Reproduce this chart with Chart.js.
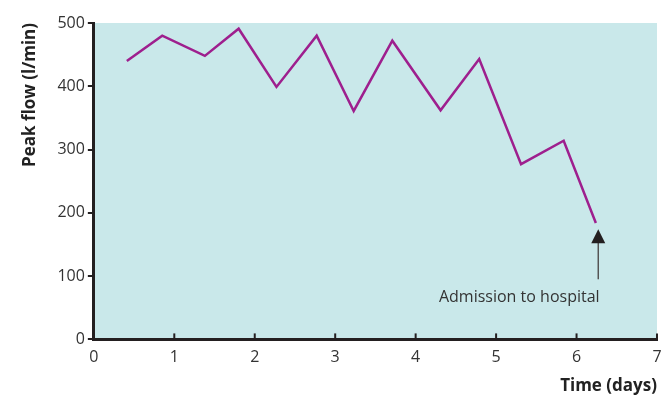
<!DOCTYPE html>
<html>
<head>
<meta charset="utf-8">
<script src="https://cdn.jsdelivr.net/npm/chart.js@4"></script>
<style>
  html, body { margin: 0; padding: 0; background: #fff; }
  #wrap { width: 664px; height: 396px; }
</style>
</head>
<body>
<div id="wrap"><canvas id="peakChart" width="664" height="396"></canvas></div>
<script>
// values
var days = [0.41, 0.85, 1.38, 1.80, 2.27, 2.77, 3.23, 3.71, 4.31, 4.79, 5.31, 5.84, 6.24];
var peakFlow = [440, 480, 448, 491, 399, 480, 361, 472, 362, 443, 277, 314, 184];
var xTicks = [0, 1, 2, 3, 4, 5, 6, 7];
var yTicks = [0, 100, 200, 300, 400, 500];
var note = { text: 'Admission to hospital', x: 6.27, tipY: 174, baseY: 95, textY: 66 };

var points = days.map(function (d, i) { return { x: d, y: peakFlow[i] }; });

// light blue plot background, inward x ticks and the arrow note
var extras = {
  id: 'extras',
  beforeDraw: function (chart) {
    var a = chart.chartArea, ctx = chart.ctx;
    ctx.save();
    ctx.fillStyle = '#c9e8ea';
    ctx.fillRect(a.left, a.top, a.right - a.left, a.bottom - a.top);
    ctx.restore();
  },
  afterDraw: function (chart) {
    var ctx = chart.ctx, xs = chart.scales.x, ys = chart.scales.y;
    ctx.save();
    ctx.strokeStyle = '#231f20';
    ctx.lineWidth = 2;
    xTicks.forEach(function (t) {
      var px = xs.getPixelForValue(t);
      ctx.beginPath();
      ctx.moveTo(px, ys.bottom);
      ctx.lineTo(px, ys.bottom - 6);
      ctx.stroke();
    });

    var ax = xs.getPixelForValue(note.x);
    var tip = ys.getPixelForValue(note.tipY);
    var base = ys.getPixelForValue(note.baseY);
    ctx.strokeStyle = '#555';
    ctx.lineWidth = 1.5;
    ctx.beginPath();
    ctx.moveTo(ax, tip + 10);
    ctx.lineTo(ax, base);
    ctx.stroke();
    ctx.fillStyle = '#231f20';
    ctx.beginPath();
    ctx.moveTo(ax, tip);
    ctx.lineTo(ax - 7, tip + 14);
    ctx.lineTo(ax + 7, tip + 14);
    ctx.closePath();
    ctx.fill();

    ctx.fillStyle = '#333';
    ctx.font = '16px "Open Sans", sans-serif';
    ctx.textAlign = 'center';
    ctx.textBaseline = 'middle';
    ctx.fillText(note.text, ax - 79, ys.getPixelForValue(note.textY));
    ctx.restore();
  }
};

var ctx = document.getElementById('peakChart').getContext('2d');
var peakChart = new Chart(ctx, {
  type: 'line',
  data: {
    datasets: [{
      data: points,
      borderColor: '#9e1f8e',
      borderWidth: 2.5,
      pointRadius: 0,
      tension: 0,
      fill: false
    }]
  },
  options: {
    responsive: false,
    animation: false,
    layout: { padding: { top: 23, right: 7, left: 20, bottom: 0 } },
    plugins: {
      legend: { display: false },
      tooltip: { enabled: false }
    },
    scales: {
      x: {
        type: 'linear',
        min: 0,
        max: 7,
        afterBuildTicks: function (axis) {
          axis.ticks = xTicks.map(function (v) { return { value: v }; });
        },
        grid: { display: false },
        border: { display: true, color: '#231f20', width: 3 },
        ticks: { color: '#333', font: { size: 16, family: '"Open Sans", sans-serif' }, padding: 0, maxRotation: 0 },
        title: {
          display: true,
          text: 'Time (days)',
          align: 'end',
          color: '#222',
          font: { size: 17, weight: 'bold', family: '"Open Sans", sans-serif' },
          padding: { top: 9, bottom: 0 }
        }
      },
      y: {
        min: 0,
        max: 500,
        afterBuildTicks: function (axis) {
          axis.ticks = yTicks.map(function (v) { return { value: v }; });
        },
        grid: { drawOnChartArea: false, tickLength: 6, color: '#231f20', lineWidth: 2 },
        border: { display: true, color: '#231f20', width: 3 },
        ticks: { color: '#333', font: { size: 16, family: '"Open Sans", sans-serif' }, padding: 3 },
        title: {
          display: true,
          text: 'Peak flow (l/min)',
          align: 'end',
          color: '#222',
          font: { size: 17, weight: 'bold', family: '"Open Sans", sans-serif' },
          padding: { top: 0, bottom: 14 }
        }
      }
    }
  },
  plugins: [extras]
});
</script>
</body>
</html>
